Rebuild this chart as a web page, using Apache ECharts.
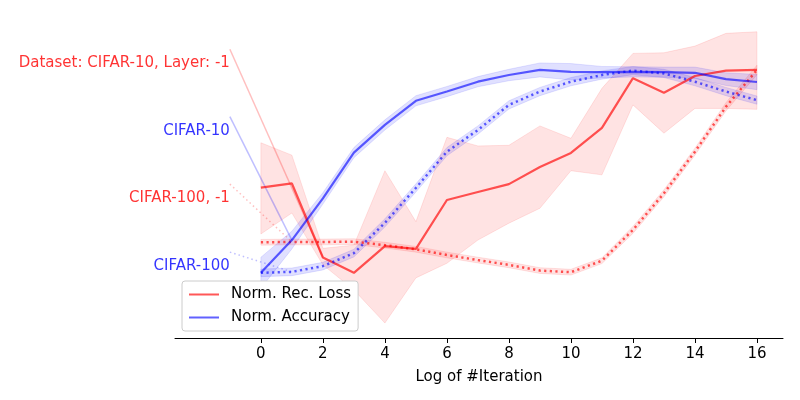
<!DOCTYPE html>
<html>
<head>
<meta charset="utf-8">
<script src="https://cdn.jsdelivr.net/npm/echarts@6/dist/echarts.min.js"></script>
<style>
  html, body { margin: 0; padding: 0; background: #fff; }
  #main { width: 800px; height: 400px; }
</style>
</head>
<body>
<div id="main"></div>
<script>
// x: log of #iteration
var iters = [0, 1, 2, 3, 4, 5, 6, 7, 8, 9, 10, 11, 12, 13, 14, 15, 16];
var xTicks = [0, 2, 4, 6, 8, 10, 12, 14, 16];

// CIFAR-10 normalized reconstruction loss (mean, lower, upper)
var lossC10 = [0.473, 0.486, 0.253, 0.205, 0.289, 0.280, 0.434, 0.459, 0.484, 0.538, 0.582, 0.661, 0.817, 0.771, 0.824, 0.841, 0.843];
var lossC10Lo = [0.327, 0.393, 0.230, 0.151, 0.047, 0.189, 0.235, 0.308, 0.361, 0.408, 0.526, 0.513, 0.733, 0.644, 0.722, 0.722, 0.719];
var lossC10Hi = [0.614, 0.575, 0.282, 0.292, 0.526, 0.366, 0.631, 0.604, 0.606, 0.667, 0.628, 0.785, 0.895, 0.897, 0.918, 0.958, 0.963];

// CIFAR-100 normalized reconstruction loss
var lossC100 = [0.301, 0.302, 0.302, 0.303, 0.292, 0.279, 0.261, 0.245, 0.230, 0.212, 0.207, 0.243, 0.340, 0.455, 0.586, 0.727, 0.843];
var lossC100Err = [0.009, 0.009, 0.009, 0.009, 0.009, 0.009, 0.009, 0.009, 0.009, 0.009, 0.009, 0.009, 0.011, 0.011, 0.011, 0.013, 0.015];

// CIFAR-10 normalized accuracy
var accC10 = [0.205, 0.308, 0.439, 0.583, 0.670, 0.746, 0.775, 0.806, 0.827, 0.843, 0.837, 0.836, 0.837, 0.836, 0.834, 0.814, 0.805];
var accC10Err = [0.049, 0.028, 0.018, 0.016, 0.016, 0.016, 0.016, 0.016, 0.018, 0.022, 0.026, 0.018, 0.016, 0.016, 0.018, 0.020, 0.024];

// CIFAR-100 normalized accuracy
var accC100 = [0.205, 0.208, 0.226, 0.267, 0.362, 0.472, 0.586, 0.654, 0.733, 0.775, 0.806, 0.827, 0.841, 0.832, 0.806, 0.775, 0.748];
var accC100Err = [0.012, 0.012, 0.012, 0.012, 0.013, 0.013, 0.013, 0.013, 0.013, 0.013, 0.013, 0.013, 0.013, 0.013, 0.013, 0.013, 0.013];

// left side labels: text, colour, y where the pointer line starts, point index it points to
var labelTexts = ['Dataset: CIFAR-10, Layer: -1', 'CIFAR-10', 'CIFAR-100, -1', 'CIFAR-100'];
var labelColors = ['#ff0000', '#0000ff', '#ff0000', '#0000ff'];
var labelY = [0.908, 0.696, 0.484, 0.270];
var labelAnchor = [2, 1, 1, 1];

var RED = 'rgba(255,0,0,0.66)';
var BLUE = 'rgba(0,0,255,0.62)';
var RED_FILL = 'rgba(255,0,0,0.11)';
var BLUE_FILL = 'rgba(0,0,255,0.12)';
var RED_EDGE = 'rgba(255,0,0,0.1)';
var BLUE_EDGE = 'rgba(0,0,255,0.1)';
var FONT = 'DejaVu Sans';

function pairs(ys) {
    return iters.map(function (x, i) { return [x, ys[i]]; });
}

// shaded band between lo and hi, one polygon through the axis scales
function band(key, lo, hi, fill, edge) {
    return {
        name: key, type: 'custom', silent: true, z: 1,
        data: iters.map(function (x, i) { return [x, lo[i], hi[i]]; }),
        encode: { x: 0, y: [1, 2] },
        renderItem: function (params, api) {
            if (params.dataIndex !== 0) return;
            var pts = [];
            for (var i = 0; i < iters.length; i++) pts.push(api.coord([iters[i], lo[i]]));
            for (var j = iters.length - 1; j >= 0; j--) pts.push(api.coord([iters[j], hi[j]]));
            return {
                type: 'polygon',
                shape: { points: pts },
                style: { fill: fill, stroke: edge, lineWidth: 1 }
            };
        }
    };
}

function errLo(m, e) { return m.map(function (v, i) { return v - e[i]; }); }
function errHi(m, e) { return m.map(function (v, i) { return v + e[i]; }); }

var seriesList = [
    band('b1', lossC10Lo, lossC10Hi, RED_FILL, RED_EDGE),
    band('b2', errLo(lossC100, lossC100Err), errHi(lossC100, lossC100Err), RED_FILL, RED_EDGE),
    band('b3', errLo(accC10, accC10Err), errHi(accC10, accC10Err), BLUE_FILL, BLUE_EDGE),
    band('b4', errLo(accC100, accC100Err), errHi(accC100, accC100Err), BLUE_FILL, BLUE_EDGE),
    { name: 'Norm. Rec. Loss', type: 'line', symbol: 'none', color: RED,
      lineStyle: { color: RED, width: 2.2 }, data: pairs(lossC10), z: 3 },
    { name: 'loss100', type: 'line', symbol: 'none',
      lineStyle: { color: RED, width: 2.5, type: [2.2, 3.4] }, data: pairs(lossC100), z: 3 },
    { name: 'Norm. Accuracy', type: 'line', symbol: 'none', color: BLUE,
      lineStyle: { color: BLUE, width: 2.2 }, data: pairs(accC10), z: 3 },
    { name: 'acc100', type: 'line', symbol: 'none',
      lineStyle: { color: BLUE, width: 2.5, type: [2.2, 3.4] }, data: pairs(accC100), z: 3 }
];

// pointer lines from labels to the curves
var curves = [lossC10, accC10, lossC100, accC100];
for (var i = 0; i < labelTexts.length; i++) {
    var k = labelAnchor[i];
    var faint = labelColors[i] === '#ff0000' ? 'rgba(255,0,0,0.25)' : 'rgba(0,0,255,0.25)';
    seriesList.push({
        name: 'ptr' + i, type: 'line', symbol: 'none', silent: true,
        lineStyle: { color: faint, width: 1.5, type: i >= 2 ? [1.5, 3] : 'solid' },
        data: [[-1, labelY[i]], [iters[k], curves[i][k]]], z: 2
    });
    seriesList.push({
        name: 'lbl' + i, type: 'scatter', symbolSize: 0, silent: true,
        data: [[-1, labelY[i]]],
        label: {
            show: true, position: 'left', distance: 0, offset: [0, 14],
            formatter: labelTexts[i], color: labelColors[i],
            fontSize: 15, fontFamily: FONT
        }, z: 4
    });
}

var myChart = echarts.init(document.getElementById('main'));
var option = {
    animation: false,
    backgroundColor: '#fff',
    grid: { left: 175, right: 17, top: 20, bottom: 62 },
    legend: {
        data: ['Norm. Rec. Loss', 'Norm. Accuracy'],
        orient: 'vertical',
        left: 182, top: 281,
        padding: [5, 7, 5, 7],
        itemWidth: 30, itemHeight: 2, itemGap: 6,
        icon: 'rect',
        backgroundColor: '#fff',
        borderColor: '#cccccc', borderWidth: 1, borderRadius: 3,
        textStyle: { fontSize: 15, color: '#000', fontFamily: FONT, lineHeight: 17, padding: [0, 0, 0, 7] }
    },
    xAxis: {
        type: 'value',
        min: -2.77, max: 16.84,
        name: 'Log of #Iteration',
        nameLocation: 'middle',
        nameGap: 32,
        nameTextStyle: { fontSize: 15, color: '#000', fontFamily: FONT },
        axisLine: { lineStyle: { color: '#000', width: 1 } },
        axisTick: { customValues: xTicks, length: 5, lineStyle: { color: '#000' } },
        axisLabel: { customValues: xTicks, fontSize: 15, color: '#000', fontFamily: FONT, margin: 9 },
        splitLine: { show: false }
    },
    yAxis: {
        type: 'value', min: 0, max: 1, show: false
    },
    series: seriesList
};
myChart.setOption(option);
</script>
</body>
</html>
